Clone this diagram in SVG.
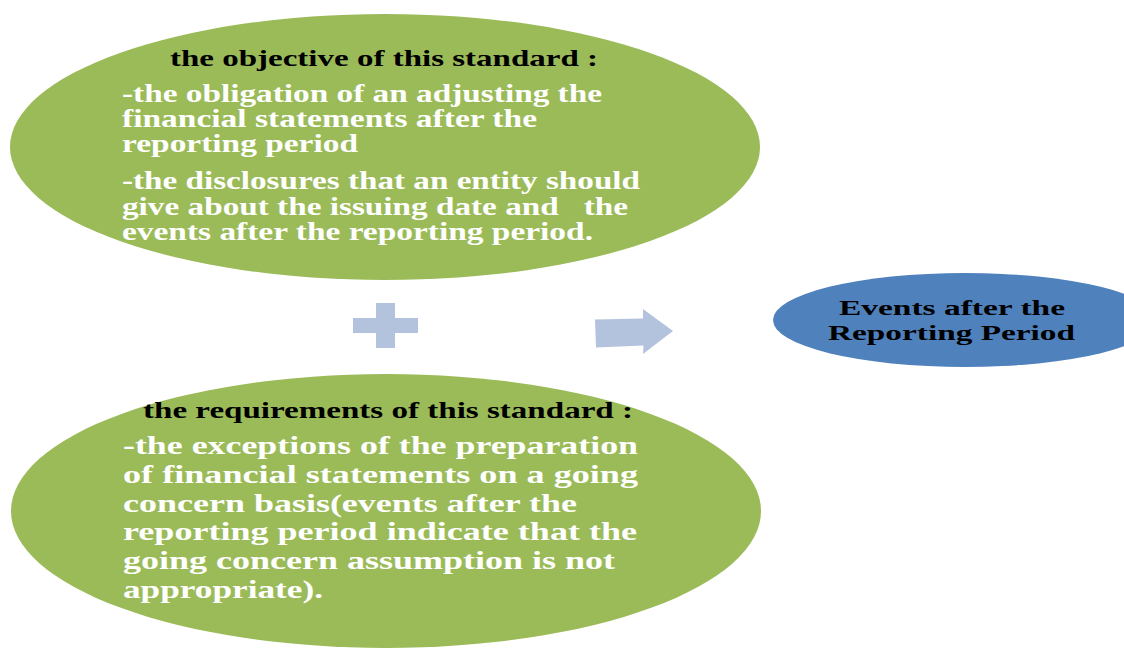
<svg xmlns="http://www.w3.org/2000/svg" width="1124" height="652" viewBox="0 0 1124 652">
  <style>
    .green { fill: #9bbb59; }
    .blue { fill: #4f81bd; }
    .op { fill: #b4c3dd; }
    .t { font-family: "Liberation Serif", "Times New Roman", serif; font-weight: bold; }
    .head { fill: #000000; font-size: 23px; }
    .body { fill: #ffffff; font-size: 26px; white-space: pre; }
    .tight { font-size: 25px; }
    .title { fill: #000000; font-size: 20px; }
  </style>
  <rect width="1124" height="652" fill="#ffffff"/>

  <!-- Objective of the standard -->
  <g id="objective">
    <ellipse class="green" cx="385" cy="147" rx="375" ry="133"/>
    <text class="t head" x="170" y="66" textLength="428" lengthAdjust="spacingAndGlyphs">the objective of this standard :</text>
    <text class="t body tight" x="122" y="102" textLength="480" lengthAdjust="spacingAndGlyphs">-the obligation of an adjusting the</text>
    <text class="t body tight" x="122" y="127" textLength="415" lengthAdjust="spacingAndGlyphs">financial statements after the</text>
    <text class="t body tight" x="122" y="152" textLength="236" lengthAdjust="spacingAndGlyphs">reporting period</text>
    <text class="t body tight" x="122" y="189" textLength="518" lengthAdjust="spacingAndGlyphs">-the disclosures that an entity should</text>
    <text class="t body tight" x="122" y="215" textLength="506" lengthAdjust="spacingAndGlyphs">give about the issuing date and   the</text>
    <text class="t body tight" x="122" y="240" textLength="471" lengthAdjust="spacingAndGlyphs">events after the reporting period.</text>
  </g>

  <!-- Requirements of the standard -->
  <g id="requirements">
    <ellipse class="green" cx="386" cy="511" rx="375" ry="137"/>
    <text class="t head" x="143" y="418" font-size="22" textLength="490" lengthAdjust="spacingAndGlyphs">the requirements of this standard :</text>
    <text class="t body" x="123" y="454" textLength="515" lengthAdjust="spacingAndGlyphs">-the exceptions of the preparation</text>
    <text class="t body" x="123" y="483" textLength="515" lengthAdjust="spacingAndGlyphs">of financial statements on a going</text>
    <text class="t body" x="123" y="512" textLength="454" lengthAdjust="spacingAndGlyphs">concern basis(events after the</text>
    <text class="t body" x="123" y="540" textLength="514" lengthAdjust="spacingAndGlyphs">reporting period indicate that the</text>
    <text class="t body" x="123" y="569" textLength="492" lengthAdjust="spacingAndGlyphs">going concern assumption is not</text>
    <text class="t body" x="123" y="598" textLength="200" lengthAdjust="spacingAndGlyphs">appropriate).</text>
  </g>

  <!-- Result -->
  <g id="result">
    <ellipse class="blue" cx="965" cy="320" rx="192" ry="47"/>
    <text class="t title" x="839" y="315" textLength="226" lengthAdjust="spacingAndGlyphs">Events after the</text>
    <text class="t title" x="828" y="340" textLength="247" lengthAdjust="spacingAndGlyphs">Reporting Period</text>
  </g>

  <!-- Operators: plus and arrow -->
  <g id="connectors">
    <polygon class="op" points="376,303 395,303 395,318 418,318 418,333 395,333 395,348 376,348 376,333 353,333 353,318 376,318"/>
    <polygon class="op" points="595,319.5 643,318.5 643,309 673,331 643,354 643.5,345.5 596,347.5"/>
  </g>
</svg>
